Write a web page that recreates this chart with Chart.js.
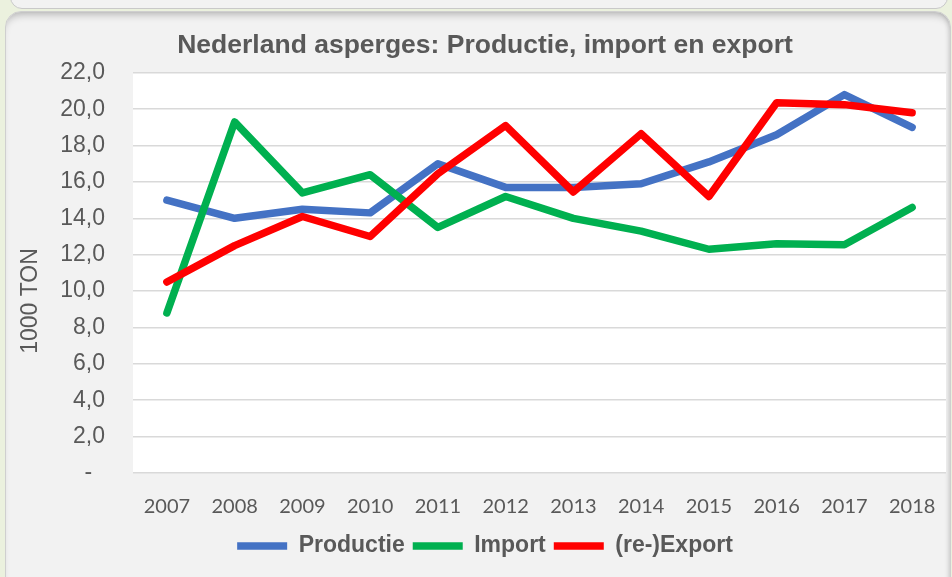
<!DOCTYPE html>
<html>
<head>
<meta charset="utf-8">
<script src="https://cdn.jsdelivr.net/npm/chart.js@4/dist/chart.umd.min.js"></script>
<style>
html, body { margin: 0; padding: 0; width: 952px; height: 577px; overflow: hidden; background: #ebf1de; }
#topbox { position: absolute; left: 10px; top: -20px; width: 936px; height: 27px; background: #f2f2f2; border: 1px solid #c9c9c9; border-radius: 12px; }
#panel { position: absolute; left: 5px; top: 11px; width: 944px; height: 600px; background: #f2f2f2; border: 1px solid #cfcfcf; border-radius: 16px; box-shadow: inset 0 7px 8px -5px rgba(0,0,0,0.28), inset -4px 0 5px -3px rgba(0,0,0,0.15); }
canvas { position: absolute; left: 0; top: 0; }
</style>
</head>
<body>
<div id="topbox"></div>
<div id="panel"></div>
<canvas id="asperges-chart" width="970" height="577"></canvas>
<script>
const years = ['2007', '2008', '2009', '2010', '2011', '2012', '2013', '2014', '2015', '2016', '2017', '2018'];
const productie = [15.0, 14.0, 14.5, 14.3, 17.0, 15.7, 15.7, 15.9, 17.1, 18.6, 20.8, 19.0];
const importData = [8.8, 19.3, 15.4, 16.4, 13.5, 15.2, 14.0, 13.3, 12.3, 12.6, 12.55, 14.6];
const reExport = [10.5, 12.5, 14.1, 13.0, 16.45, 19.1, 15.45, 18.65, 15.2, 20.35, 20.25, 19.8];
const yMin = 0;
const yMax = 22;
const yStep = 2;

const textColor = '#595959';
const arial = '"Liberation Sans", Arial, sans-serif';

// white plot area on the grey panel
const plotBackground = {
    id: 'plotBackground',
    beforeDraw(chart) {
        const {ctx, chartArea} = chart;
        ctx.save();
        ctx.fillStyle = '#ffffff';
        ctx.fillRect(chartArea.left, chartArea.top, chartArea.width, chartArea.height);
        ctx.restore();
    }
};

// vertical axis title, sits a bit lower than the plot centre like in the original
const yAxisTitle = {
    id: 'yAxisTitle',
    afterDraw(chart) {
        const ctx = chart.ctx;
        ctx.save();
        ctx.translate(31, 301);
        ctx.rotate(-Math.PI / 2);
        ctx.font = '23px ' + arial;
        ctx.fillStyle = textColor;
        ctx.textAlign = 'center';
        ctx.textBaseline = 'middle';
        ctx.fillText('1000 TON', 0, 0);
        ctx.restore();
    }
};

function lineSet(label, data, color, order) {
    return {
        label: label,
        data: data,
        borderColor: color,
        backgroundColor: color,
        borderWidth: 7.5,
        borderCapStyle: 'round',
        borderJoinStyle: 'round',
        pointRadius: 0,
        pointHoverRadius: 0,
        tension: 0,
        fill: false,
        order: order
    };
}

const config = {
    type: 'line',
    data: {
        labels: years,
        datasets: [
            lineSet('Productie', productie, '#4472C4', 2),
            lineSet('Import', importData, '#00B050', 1),
            lineSet('(re-)Export', reExport, '#FF0000', 0)
        ]
    },
    options: {
        responsive: false,
        animation: false,
        layout: { padding: { left: 24, right: 24, top: 0, bottom: 9.5 } },
        plugins: {
            title: {
                display: true,
                text: 'Nederland asperges: Productie, import en export',
                color: textColor,
                font: { family: arial, size: 26.5, weight: 'bold' },
                padding: { top: 30, bottom: 11 }
            },
            legend: {
                position: 'bottom',
                labels: {
                    usePointStyle: true,
                    pointStyle: 'line',
                    pointStyleWidth: 50,
                    color: textColor,
                    font: { family: arial, size: 23, weight: 'bold' },
                    padding: 8,
                    sort: (a, b) => a.datasetIndex - b.datasetIndex
                }
            },
            tooltip: { enabled: false }
        },
        scales: {
            x: {
                offset: true,
                grid: { display: false },
                border: { display: false },
                ticks: {
                    color: textColor,
                    font: { family: 'Lato, "Open Sans", sans-serif', size: 20 },
                    padding: 14,
                    maxRotation: 0
                },
                afterFit: (scale) => { scale.height = 53.5; }
            },
            y: {
                min: yMin,
                max: yMax,
                grid: { color: '#d9d9d9', lineWidth: 1.5, drawTicks: false },
                border: { display: false },
                ticks: {
                    stepSize: yStep,
                    color: textColor,
                    font: { family: arial, size: 23 },
                    padding: 28,
                    callback: (v) => v === 0 ? '-  ' : v.toFixed(1).replace('.', ',')
                },
                afterFit: (scale) => { scale.width = 109; }
            }
        }
    },
    plugins: [plotBackground, yAxisTitle]
};

new Chart(document.getElementById('asperges-chart'), config);
</script>
</body>
</html>
